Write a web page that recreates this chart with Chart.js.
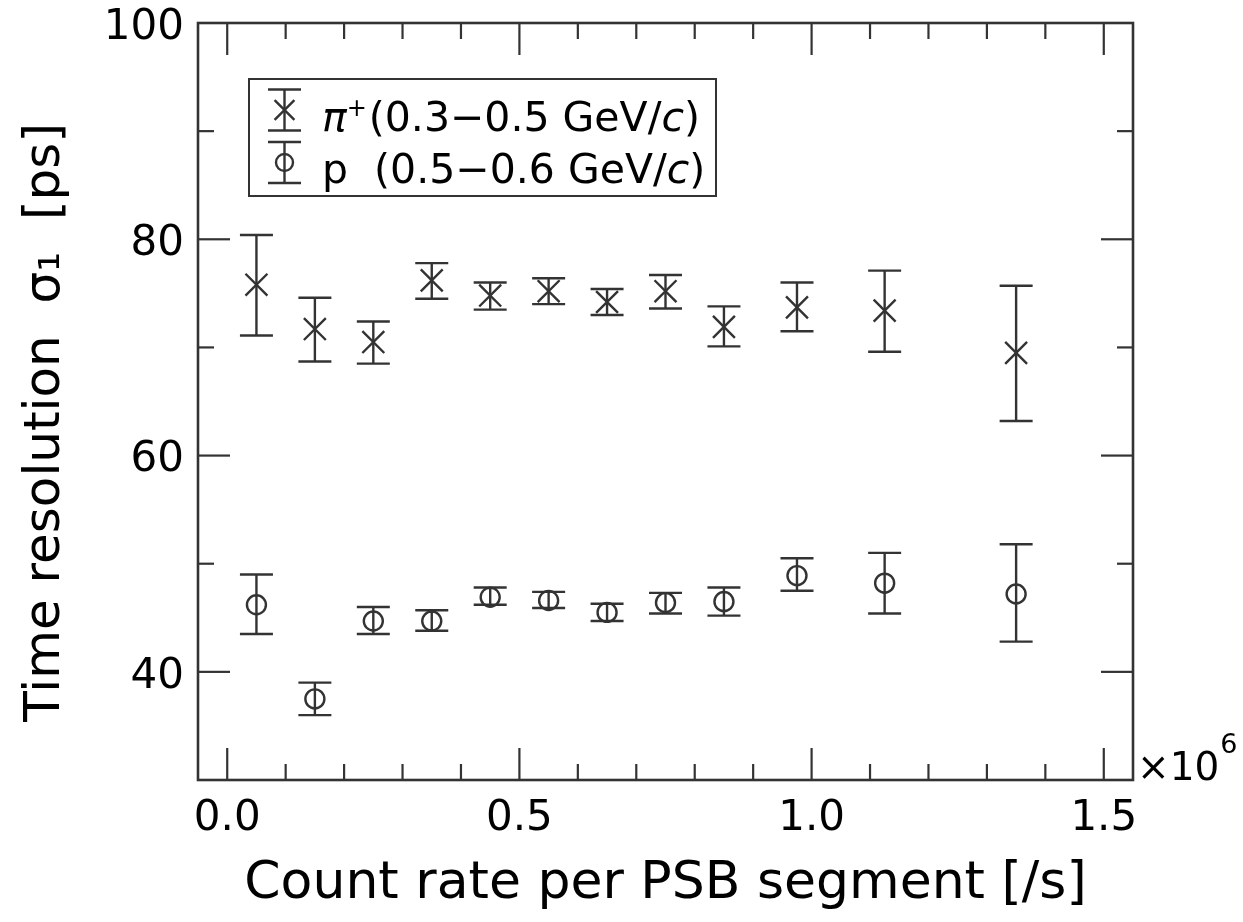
<!DOCTYPE html>
<html>
<head>
<meta charset="utf-8">
<script src="https://cdn.jsdelivr.net/npm/chart.js@4.4.1/dist/chart.umd.min.js"></script>
<style>
  html, body { margin: 0; background: #fff; }
  #wrap { width: 1243px; height: 922px; }
</style>
</head>
<body>
<div id="wrap"><canvas id="plot"></canvas></div>
<script>
// count rate in units of 10^6 /s
const countRate = [0.05, 0.15, 0.25, 0.35, 0.45, 0.55, 0.65, 0.75, 0.85, 0.975, 1.125, 1.35];

const pionSigma = [75.8, 71.7, 70.5, 76.2, 74.8, 75.2, 74.2, 75.2, 71.9, 73.7, 73.4, 69.5];
const pionLow   = [71.1, 68.7, 68.5, 74.5, 73.5, 74.0, 73.0, 73.6, 70.1, 71.5, 69.6, 63.2];
const pionHigh  = [80.4, 74.6, 72.4, 77.8, 76.0, 76.4, 75.4, 76.7, 73.8, 76.0, 77.1, 75.7];

const protonSigma = [46.2, 37.5, 44.7, 44.7, 46.9, 46.6, 45.5, 46.4, 46.5, 48.9, 48.2, 47.2];
const protonLow   = [43.5, 36.0, 43.5, 43.8, 46.2, 45.9, 44.7, 45.4, 45.2, 47.5, 45.4, 42.8];
const protonHigh  = [49.0, 39.0, 46.0, 45.7, 47.8, 47.4, 46.3, 47.3, 47.8, 50.5, 51.0, 51.8];

const seriesLabels = ['π⁺(0.3−0.5 GeV/c)', 'p  (0.5−0.6 GeV/c)'];

const xTickValues = [0, 0.5, 1.0, 1.5];
const xTickLabels = ['0.0', '0.5', '1.0', '1.5'];
const yTickValues = [40, 60, 80, 100];
const yTickLabels = ['40', '60', '80', '100'];

const FONT = '"DejaVu Sans", "Liberation Sans", sans-serif';
const INK = '#333';

function line(ctx, x1, y1, x2, y2) {
    ctx.beginPath();
    ctx.moveTo(x1, y1);
    ctx.lineTo(x2, y2);
    ctx.stroke();
}

function errorBar(ctx, x, yLow, yHigh, half) {
    line(ctx, x, yLow, x, yHigh);
    line(ctx, x - half, yLow, x + half, yLow);
    line(ctx, x - half, yHigh, x + half, yHigh);
}

const framePlugin = {
    id: 'frame',
    beforeDatasetsDraw(chart) {
        const { ctx, chartArea: a } = chart;
        const xs = chart.scales.x, ys = chart.scales.y;
        ctx.save();
        ctx.strokeStyle = INK;
        ctx.lineWidth = 2.2;

        // inward ticks on all four sides
        for (let k = 0; k <= 15; k++) {
            const v = k / 10;
            const px = xs.getPixelForValue(v);
            const len = xTickValues.some(t => Math.abs(t - v) < 1e-6) ? 32 : 16;
            line(ctx, px, a.bottom, px, a.bottom - len);
            line(ctx, px, a.top, px, a.top + len);
        }
        for (let v = 40; v <= 90; v += 10) {
            const py = ys.getPixelForValue(v);
            const len = yTickValues.includes(v) ? 32 : 16;
            line(ctx, a.left, py, a.left + len, py);
            line(ctx, a.right, py, a.right - len, py);
        }

        // error bars
        ctx.lineWidth = 2.4;
        const bars = [[pionLow, pionHigh], [protonLow, protonHigh]];
        bars.forEach(([lo, hi]) => {
            countRate.forEach((r, i) => {
                errorBar(ctx, xs.getPixelForValue(r), ys.getPixelForValue(lo[i]), ys.getPixelForValue(hi[i]), 16.5);
            });
        });

        ctx.lineWidth = 2.6;
        ctx.strokeRect(a.left, a.top, a.right - a.left, a.bottom - a.top);
        ctx.restore();
    },
    afterDraw(chart) {
        const { ctx, chartArea: a } = chart;
        ctx.save();

        // x10^6 multiplier
        ctx.fillStyle = '#000';
        ctx.textBaseline = 'alphabetic';
        ctx.textAlign = 'left';
        ctx.font = '39px ' + FONT;
        ctx.fillText('×10', a.right + 4, a.bottom);
        const w = ctx.measureText('×10').width;
        ctx.font = '27px ' + FONT;
        ctx.fillText('6', a.right + 4 + w + 1, a.bottom - 27);

        // legend box
        const bx = a.left + 51, by = a.top + 56, bw = 467, bh = 117;
        ctx.strokeStyle = INK;
        ctx.lineWidth = 2;
        ctx.strokeRect(bx, by, bw, bh);

        const rowCenter = [by + 31, by + 83.5];
        const rowBase = [by + 52, by + 104];
        chart.data.datasets.forEach((ds, i) => {
            const sx = bx + 35.5;
            ctx.strokeStyle = INK;
            ctx.lineWidth = 2.4;
            errorBar(ctx, sx, rowCenter[i] + 20.5, rowCenter[i] - 20.5, 16.5);
            ctx.fillStyle = 'rgba(0,0,0,0)';
            Chart.helpers.drawPoint(ctx, {
                pointStyle: ds.pointStyle,
                radius: ds.pointStyle === 'circle' ? 8.5 : 14,
                rotation: 0,
                borderWidth: 2.4
            }, sx, rowCenter[i]);

            // label text, with italic symbols and superscript charge
            let tx = bx + 73;
            ctx.fillStyle = '#000';
            for (const ch of ds.label) {
                if (ch === '⁺') {
                    ctx.font = '24px ' + FONT;
                    ctx.fillText('+', tx, rowBase[i] - 15);
                    tx += ctx.measureText('+').width + 2;
                } else {
                    ctx.font = ('πc'.includes(ch) ? 'oblique ' : '') + '41px ' + FONT;
                    ctx.fillText(ch, tx, rowBase[i]);
                    tx += ctx.measureText(ch).width;
                }
            }
        });
        ctx.restore();
    }
};

const ctx = document.getElementById('plot').getContext('2d');
new Chart(ctx, {
    type: 'scatter',
    data: {
        datasets: [
            {
                label: seriesLabels[0],
                data: countRate.map((r, i) => ({ x: r, y: pionSigma[i] })),
                pointStyle: 'crossRot',
                pointRadius: 15.5,
                borderColor: INK,
                backgroundColor: 'rgba(0,0,0,0)',
                borderWidth: 2.4
            },
            {
                label: seriesLabels[1],
                data: countRate.map((r, i) => ({ x: r, y: protonSigma[i] })),
                pointStyle: 'circle',
                pointRadius: 9.5,
                borderColor: INK,
                backgroundColor: 'rgba(0,0,0,0)',
                borderWidth: 2.4
            }
        ]
    },
    options: {
        responsive: true,
        maintainAspectRatio: false,
        animation: false,
        layout: { padding: { top: 23, right: 110, bottom: 0, left: 0 } },
        plugins: {
            legend: { display: false },
            tooltip: { enabled: false }
        },
        scales: {
            x: {
                type: 'linear',
                min: -0.05,
                max: 1.55,
                afterBuildTicks: s => { s.ticks = xTickValues.map(v => ({ value: v })); },
                afterFit: s => { s.height = 142; s.paddingLeft = 0; s.paddingRight = 0; },
                ticks: {
                    callback: (v, i) => xTickLabels[i],
                    color: '#000',
                    font: { family: FONT, size: 42 },
                    padding: 14,
                    maxRotation: 0,
                    autoSkip: false
                },
                grid: { display: false, drawTicks: false },
                border: { display: false },
                title: {
                    display: true,
                    text: 'Count rate per PSB segment [/s]',
                    color: '#000',
                    font: { family: FONT, size: 52, lineHeight: 1 },
                    padding: { top: 0, bottom: 12 }
                }
            },
            y: {
                type: 'linear',
                min: 30,
                max: 100,
                afterBuildTicks: s => { s.ticks = yTickValues.map(v => ({ value: v })); },
                afterFit: s => { s.width = 198; s.paddingTop = 0; s.paddingBottom = 0; },
                ticks: {
                    callback: (v, i) => yTickLabels[i],
                    color: '#000',
                    font: { family: FONT, size: 42 },
                    padding: 14,
                    labelOffset: 5,
                    autoSkip: false
                },
                grid: { display: false, drawTicks: false },
                border: { display: false },
                title: {
                    display: true,
                    text: 'Time resolution  σ₁  [ps]  \u2009',
                    color: '#000',
                    font: { family: FONT, size: 50, lineHeight: 1 },
                    padding: { top: 21, bottom: 0 }
                }
            }
        }
    },
    plugins: [framePlugin]
});
</script>
</body>
</html>
